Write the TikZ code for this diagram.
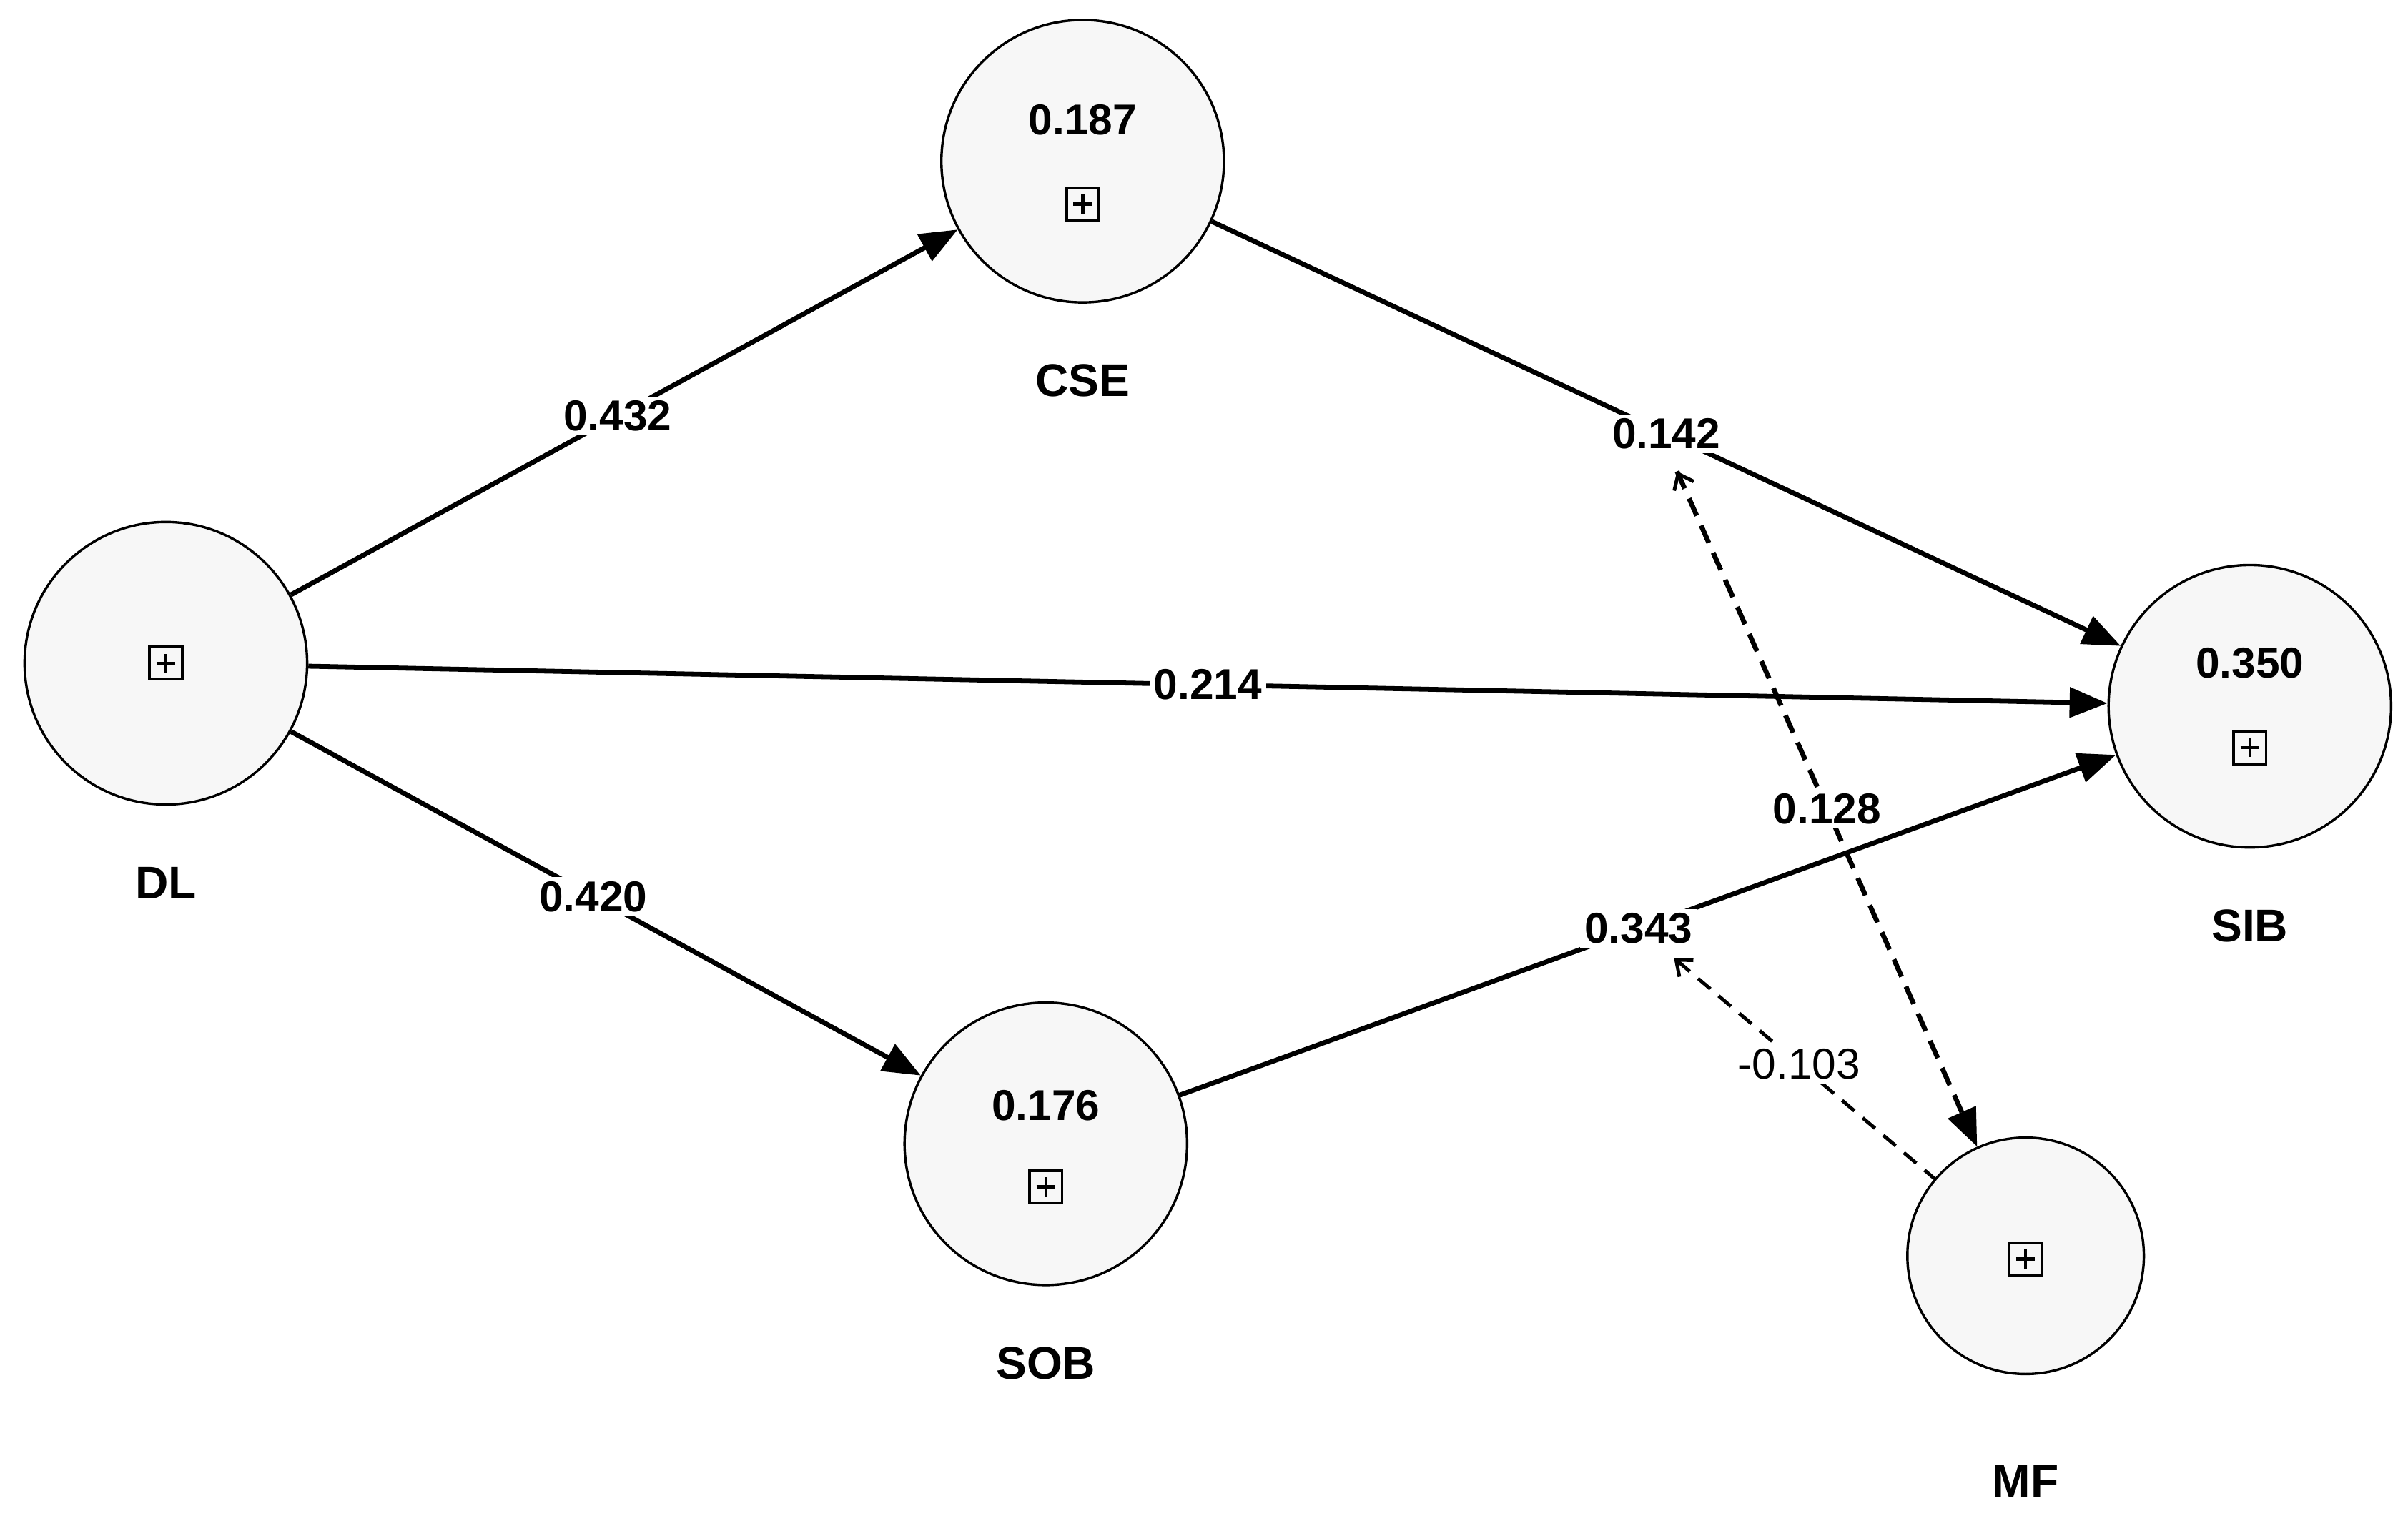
\documentclass[tikz,border=0pt]{standalone}
\usepackage{fontspec}
\setmainfont{Liberation Sans}
\usetikzlibrary{arrows.meta}
\begin{document}
\begin{tikzpicture}[x=0.02cm,y=-0.02cm,
  lv/.style={circle,draw,line width=0.9pt,fill=black!3,minimum size=184*0.02cm,inner sep=0pt},
  txt/.style={font=\fontsize{16}{18}\selectfont\bfseries},
  nm/.style={font=\fontsize{17}{19}\selectfont\bfseries},
  pb/.style={draw,line width=1pt,minimum size=12pt,inner sep=0pt,
    path picture={\draw[line width=1.2pt] ([xshift=-3.5pt]path picture bounding box.center) -- ++(7pt,0);
                  \draw[line width=1.2pt] ([yshift=-3.5pt]path picture bounding box.center) -- ++(0,7pt);}},
  path/.style={line width=1.8pt,-{Triangle[length=14pt,width=11pt]}},
  mod/.style={line width=1.8pt,dash pattern=on 7pt off 4pt,-{Triangle[length=14pt,width=11pt]}},
  lab/.style={fill=white,inner sep=1.5pt,font=\fontsize{16}{18}\selectfont\bfseries}]
\useasboundingbox (0,0) rectangle (1568,987);
\node[lv] (CSE) at (705,105) {};
\node[lv] (DL) at (108,432) {};
\node[lv] (SOB) at (681,745) {};
\node[lv] (SIB) at (1465,460) {};
\node[lv,minimum size=154*0.02cm] (MF) at (1319,818) {};
\node[txt] (cv) at (705,78) {0.187};
\node[pb] (cp) at (705,133) {};
\node[pb] (dp) at (108,432) {};
\node[txt] (sv) at (681,720) {0.176};
\node[pb] (sp) at (681,773) {};
\node[txt] (siv) at (1465,432) {0.350};
\node[pb] (sip) at (1465,487) {};
\node[pb] (mp) at (1319,820) {};
\node[nm] (cl) at (705,248) {CSE};
\node[nm] (dlab) at (108,575) {DL};
\node[nm] (sl) at (681,888) {SOB};
\node[nm] (sil) at (1465,603) {SIB};
\node[nm] (ml) at (1319,965) {MF};
\draw[path] (DL) -- node[lab,pos=0.49] (l1) {0.432} (CSE);
\draw[path] (DL) -- node[lab,pos=0.5] (l2) {0.214} (SIB);
\draw[path] (DL) -- node[lab,pos=0.48] (l3) {0.420} (SOB);
\draw[path] (CSE) -- node[lab,pos=0.5] (l4) {0.142} (SIB);
\draw[path] (SOB) -- node[lab,pos=0.49] (l5) {0.343} (SIB);
\coordinate (t1) at (1092,307);
\coordinate (t2) at (1090,624);
\draw[mod] (t1) -- node[lab,pos=0.5] (l6) {0.128} (MF);
\draw[line width=1.3pt,dash pattern=on 6pt off 4pt,{Straight Barb[length=5pt,width=8pt]}-] (t2) -- node[lab,font=\fontsize{16}{18}\selectfont,pos=0.48] (l7) {-0.103} (MF);
\draw[line width=1.3pt,{Straight Barb[length=5pt,width=8pt]}-] (t1) -- ++(0.8,1.7);
\end{tikzpicture}
\end{document}
